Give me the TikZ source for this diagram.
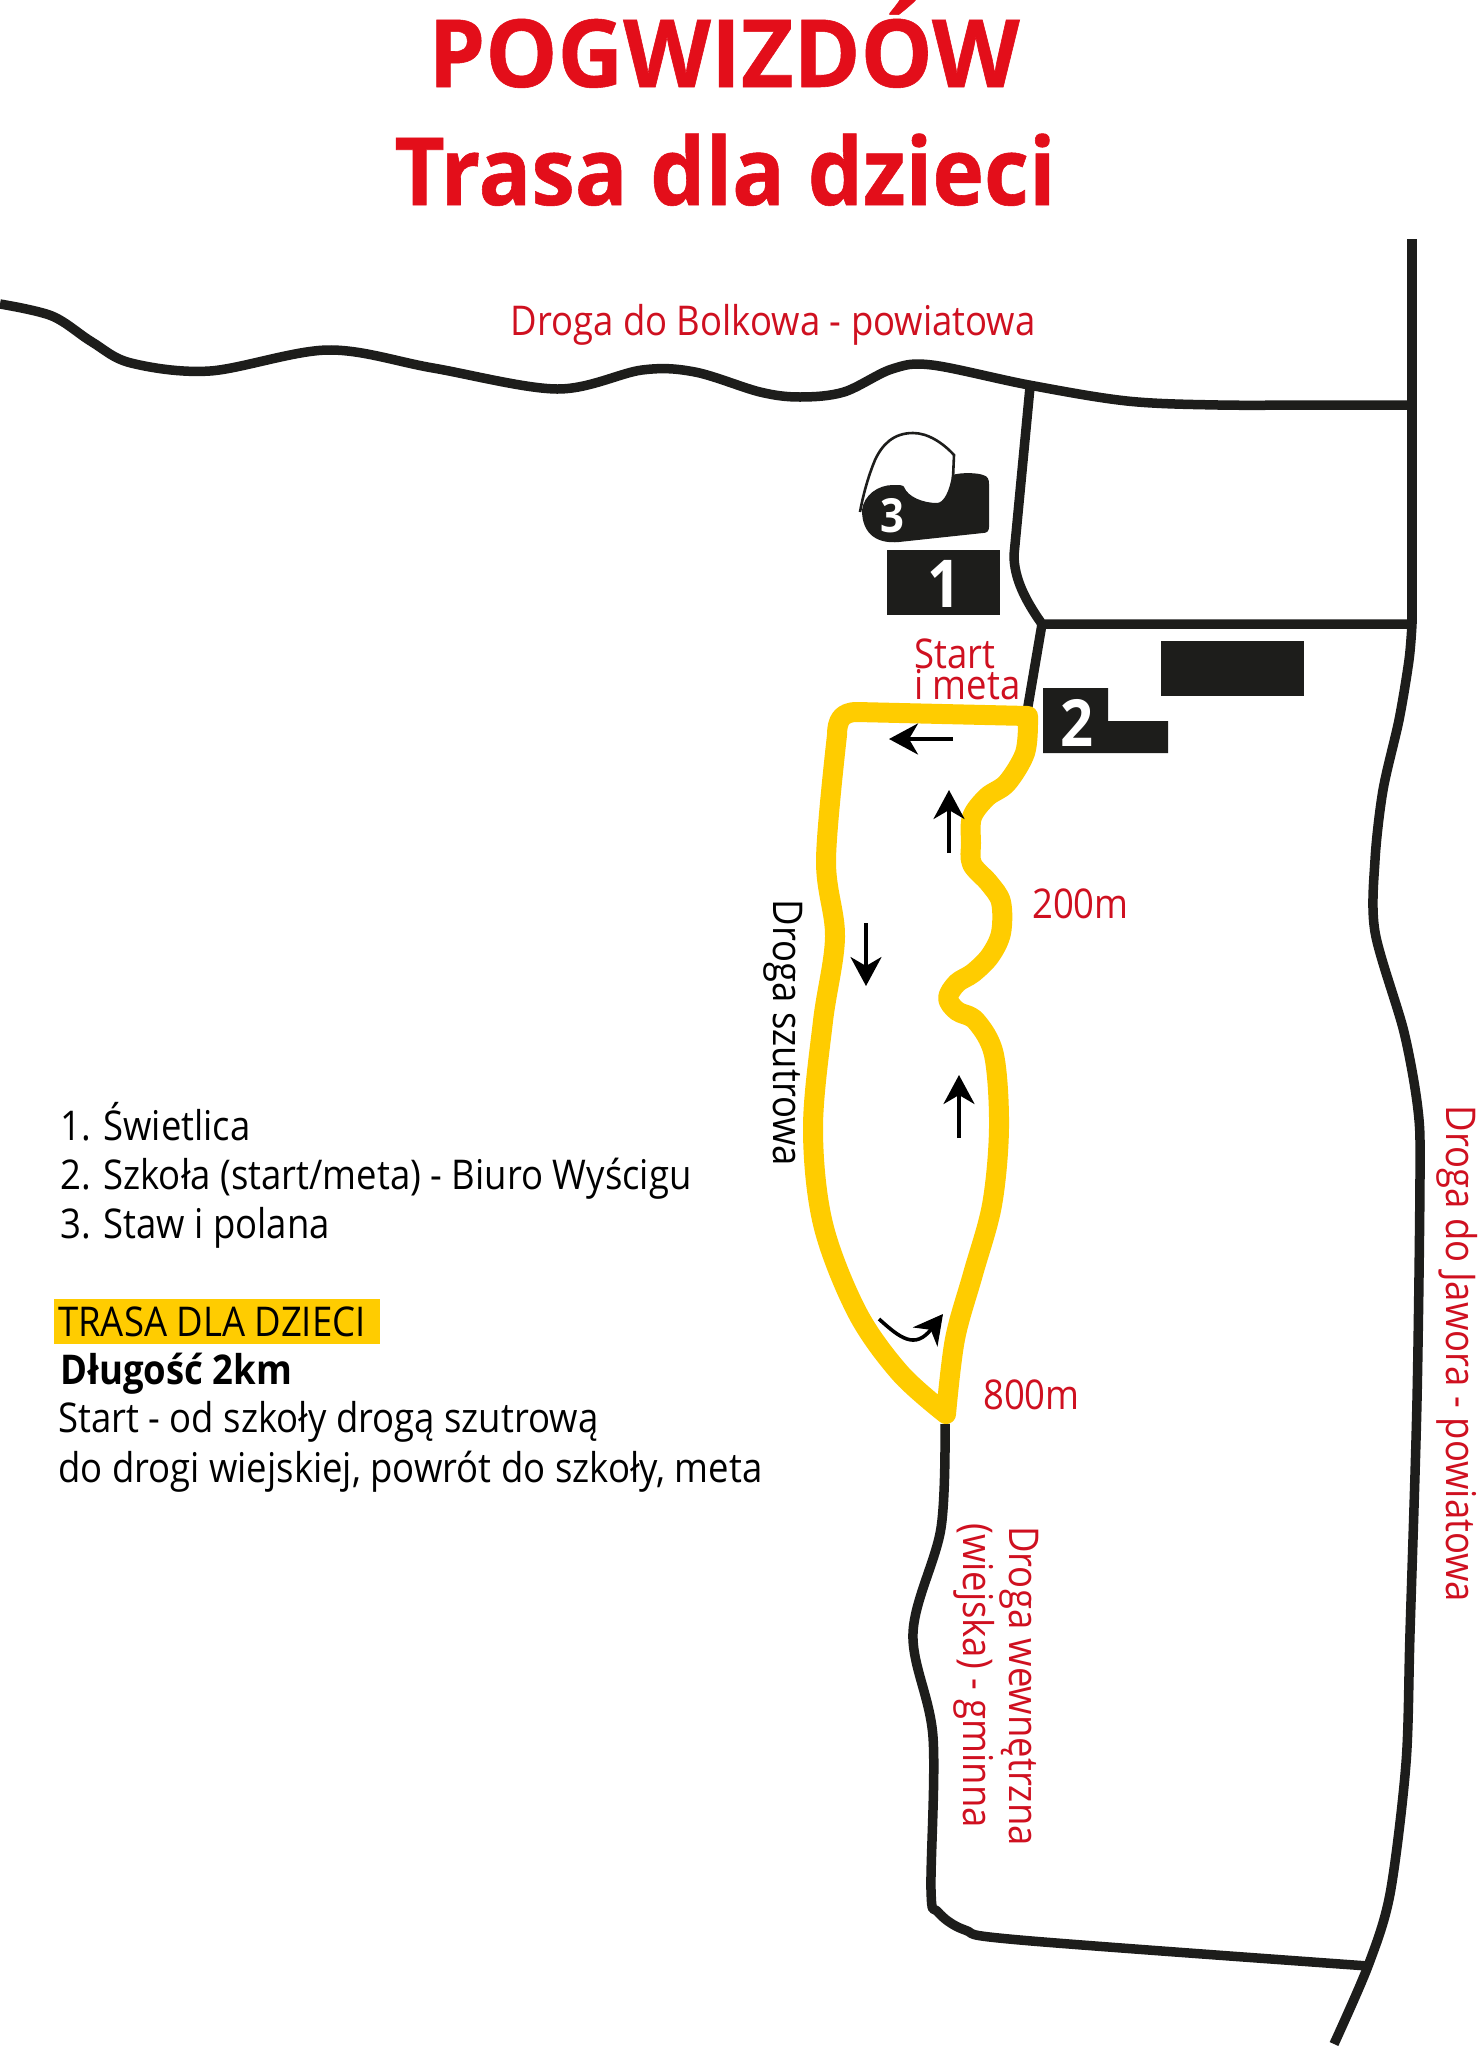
\documentclass[tikz,border=0pt]{standalone}
\usepackage{fontspec}
\setmainfont{Open Sans}[FakeStretch=0.89]
\newfontfamily\ttlA{Open Sans}[BoldFeatures={FakeStretch=0.965,FakeBold=0.6}]
\newfontfamily\ttlB{Open Sans}[BoldFeatures={FakeStretch=0.93,FakeBold=0.6}]
\usetikzlibrary{arrows.meta}
\definecolor{ink}{HTML}{1D1D1B}
\definecolor{titlered}{HTML}{E30E1A}
\definecolor{labelred}{HTML}{CF1020}
\definecolor{route}{HTML}{FFCC00}
\tikzset{
  road/.style={draw=ink,line width=9.5pt,line join=round},
  track/.style={draw=route,line width=20pt,line join=round,line cap=round},
  dirarrow/.style={draw=black,line width=3.6pt,-{Stealth[length=29pt,width=31pt,inset=9pt]}},
  bld/.style={fill=ink,draw=none},
  num/.style={text=white,font=\fontsize{#1}{#1}\selectfont\bfseries,anchor=base,inner sep=0pt},
  ttl/.style={text=titlered,anchor=base,inner sep=0pt},
  rlabel/.style={text=labelred,font=\fontsize{41}{41}\selectfont,inner sep=0pt},
  blabel/.style={text=black,font=\fontsize{41}{41}\selectfont,inner sep=0pt},
}
\begin{document}
\begin{tikzpicture}[x=1pt,y=-1pt]
\useasboundingbox[fill=white] (0,0) rectangle (1483,2048);
% roads
\coordinate (jTop) at (1030,387);
\coordinate (jMid) at (1042,624);
\coordinate (jR1) at (1412,405);
\coordinate (jR2) at (1412,624);
\coordinate (jBot) at (1368,1966);
\coordinate (jTrack) at (1027,712);
\coordinate (rTop) at (1412,239);
\draw[road] plot[smooth,tension=0.55] coordinates {(0,304) (52,316) (92,342) (131,363) (210,371) (328,350) (433,368) (557,389) (642,370) (695,372) (760,392) (800,397) (844,392) (892,369) (932,365) (1029,385) (1127,401) (1218,405) (1320,405) (1408,405)};
\draw[road] plot[smooth,tension=0.5] coordinates {(1412,624) (1409,660) (1399,720) (1383,790) (1375,860) (1375,932) (1404,1032) (1418,1110) (1420,1175) (1417,1400) (1410,1633) (1406,1763) (1390,1894) (1368,1966) (1334,2044)};
\draw[road] (rTop) -- (jR2);
\draw[road] (jTop) -- (1014,555) .. controls (1014,578) and (1025,600) .. (jMid) -- (jR2);
\draw[road] (jMid) -- (jTrack);
\draw[road] plot[smooth,tension=0.55] coordinates {(945,1424) (941,1528) (913,1633) (933,1737) (931,1890) (938,1912) (965,1930) (1020,1940) (1368,1966)};
% buildings
\fill[bld] (887,550) rectangle (1000,615);
\fill[bld] (1161,641) rectangle (1304,696);
\fill[bld] (1043,688) -- (1108,688) -- (1108,721) -- (1168,721) -- (1168,753) -- (1043,753) -- cycle;
% pond
\begin{scope}[xshift=-2pt]
\draw[ink,line width=2.6pt] (862,512) .. controls (866,490) and (872,472) .. (877,460) .. controls (884,445) and (895,433) .. (915,433) .. controls (930,433) and (945,443) .. (956,455) -- (955,478);
\fill[bld] (864,510) .. controls (866,495) and (880,485) .. (895,485) .. controls (902,485) and (905,485) .. (906,487) .. controls (910,497) and (925,503) .. (939,503) .. controls (946,503) and (952,490) .. (954,475) .. controls (965,472) and (980,473) .. (985,475) .. controls (990,476) and (991,480) .. (991,484) -- (991,527) .. controls (991,531) and (989,533) .. (985,533) -- (901,542) .. controls (880,544) and (864,535) .. (864,510) -- cycle;
\end{scope}
% track
\draw[track] plot[smooth,tension=0.55] coordinates {(946,1414) (955,1339) (973,1274) (992,1205) (999,1128) (994,1055) (976,1021) (957,1011) (948,998) (957,983) (973,973) (990,956) (1001,933) (1001,902) (989,883) (972,864) (971,843) (972,817) (987,797) (1007,783) (1025,753) (1028,722)}
  -- (1028,716) -- (857,712) .. controls (842,712) and (837,720) .. (837,735)
  -- plot[smooth,tension=0.55] coordinates {(837,735) (826,860) (835,937) (823,1021) (813,1128) (823,1224) (857,1312) (900,1373) (946,1414)} -- cycle;
% direction arrows
\coordinate (aL1) at (953,739); \coordinate (aL2) at (889,739);
\coordinate (aU1) at (949,853); \coordinate (aU2) at (949,790);
\coordinate (aD1) at (866,923); \coordinate (aD2) at (866,986);
\coordinate (aV1) at (959,1138); \coordinate (aV2) at (959,1075);
\coordinate (aC1) at (879,1319); \coordinate (aC2) at (943,1314);
\draw[dirarrow] (aL1) -- (aL2);
\draw[dirarrow] (aU1) -- (aU2);
\draw[dirarrow] (aD1) -- (aD2);
\draw[dirarrow] (aV1) -- (aV2);
\draw[dirarrow] (aC1) .. controls (900,1338) and (915,1350) .. (aC2);
% numbers
\node[num=66] (n1) at (944,607) {1};
\node[num=65] (n2) at (1077,746) {2};
\node[num=47] (n3) at (892,532) {3};
% title
\node[ttl,font=\fontsize{94}{94}\selectfont\ttlA\bfseries] (t1) at (724,87) {POGWIZDÓW};
\node[ttl,font=\fontsize{94}{94}\selectfont\ttlB\bfseries] (t2) at (725,205) {Trasa dla dzieci};
% road labels
\node[rlabel,anchor=base] (l1) at (773,335) {Droga do Bolkowa - powiatowa};
\node[rlabel,anchor=base west] (l2) at (914,668) {Start};
\node[rlabel,anchor=base west] (l3) at (914,699) {i meta};
\node[rlabel,anchor=base west] (l4) at (1032,918) {200m};
\node[rlabel,anchor=base west] (l5) at (983,1409) {800m};
\node[blabel,rotate=-90,anchor=base] (l6) at (773,1033) {Droga szutrowa};
\node[rlabel,rotate=-90,anchor=base] (l7) at (1446,1354) {Droga do Jawora - powiatowa};
\node[rlabel,rotate=-90,anchor=base west] (l8) at (1009,1526) {Droga wewnętrzna};
\node[rlabel,rotate=-90,anchor=base west] (l9) at (963,1523) {(wiejska) - gminna};
% legend
\node[fill=route,minimum width=326pt,minimum height=45pt,anchor=north west,inner sep=0pt] (hl) at (54,1299) {};
\node[blabel,anchor=base west] (i1) at (60,1140) {1. Świetlica};
\node[blabel,anchor=base west] (i2) at (60,1189) {2. Szkoła (start/meta) - Biuro Wyścigu};
\node[blabel,anchor=base west] (i3) at (60,1238) {3. Staw i polana};
\node[blabel,anchor=base west] (i4) at (58,1336) {TRASA DLA DZIECI};
\node[blabel,anchor=base west] (i5) at (60,1384) {\bfseries Długość 2km};
\node[blabel,anchor=base west] (i6) at (58,1432) {Start - od szkoły drogą szutrową};
\node[blabel,anchor=base west] (i7) at (58,1482) {do drogi wiejskiej, powrót do szkoły, meta};
\end{tikzpicture}
\end{document}
